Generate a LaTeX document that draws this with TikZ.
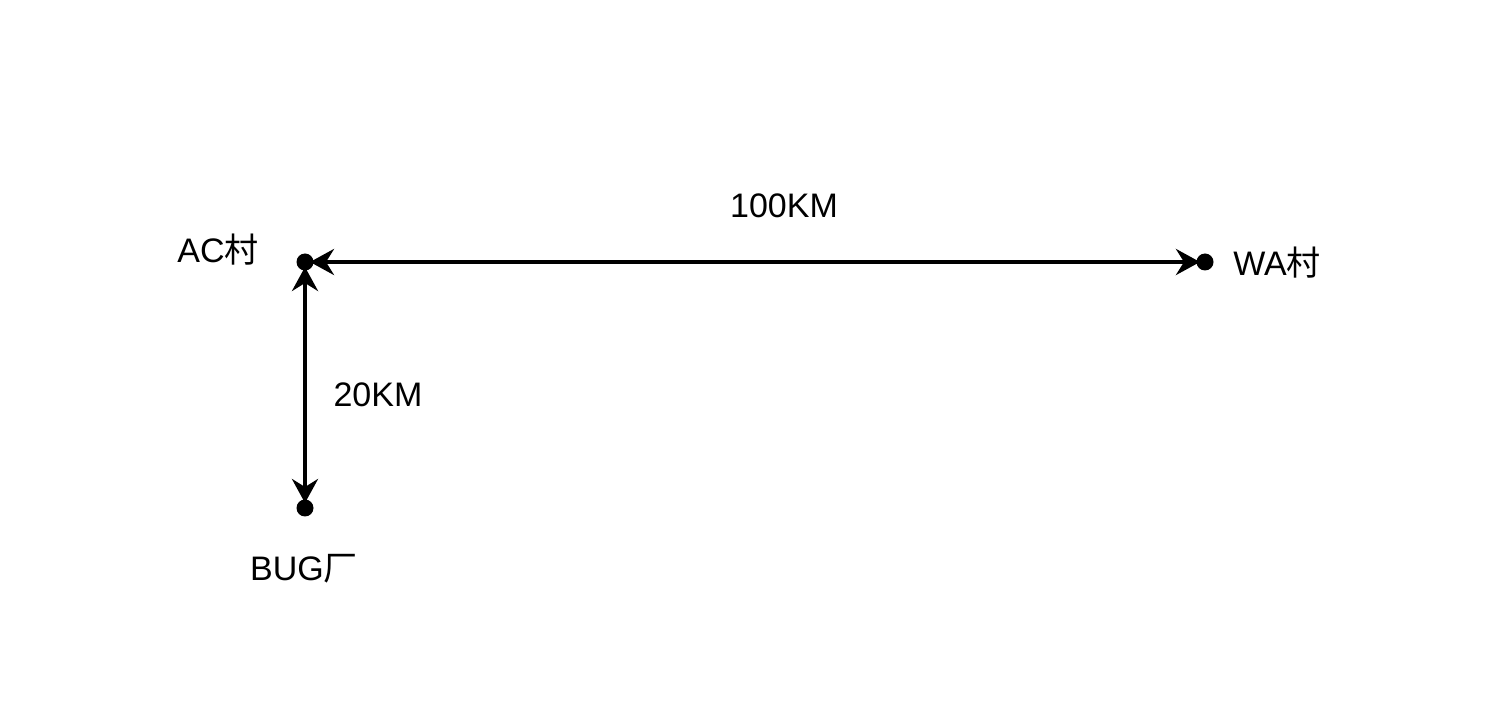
\documentclass[tikz,border=0pt]{standalone}
\usepackage{fontspec}
\setmainfont{Liberation Sans}
\newfontfamily\cjk{Noto Sans CJK SC}
\usetikzlibrary{positioning}
\usetikzlibrary{arrows.meta}

\begin{document}
\begin{tikzpicture}[x=1pt, y=1pt, every node/.style={font=\fontsize{17}{20}\selectfont},
    place/.style={circle, fill=black, inner sep=0pt, minimum size=8.5pt},
    road/.style={line width=2pt, shorten <=2.5pt, shorten >=2.5pt,
        {Stealth[length=12pt,width=13pt,inset=4pt]}-{Stealth[length=12pt,width=13pt,inset=4pt]}}]
    \useasboundingbox (0,0) rectangle (756,354);
    % places
    \node[place] (ac) at (152.5, 223) {};
    \node[place] (wa) at (602.5, 223) {};
    \node[place] (bug) at (152.5, 100) {};
    \node (aclabel) at (109, 229) {AC{\cjk 村}};
    \node (walabel) at (638.5, 222.5) {WA{\cjk 村}};
    \node (buglabel) at (152, 69.5) {BUG{\cjk 厂}};

    % distances
    \draw[road] (ac.center) -- (wa.center);
    \draw[road] (ac.center) -- (bug.center);
    \node (long) at (392, 251) {100KM};
    \node (short) at (189, 156.5) {20KM};
\end{tikzpicture}
\end{document}
